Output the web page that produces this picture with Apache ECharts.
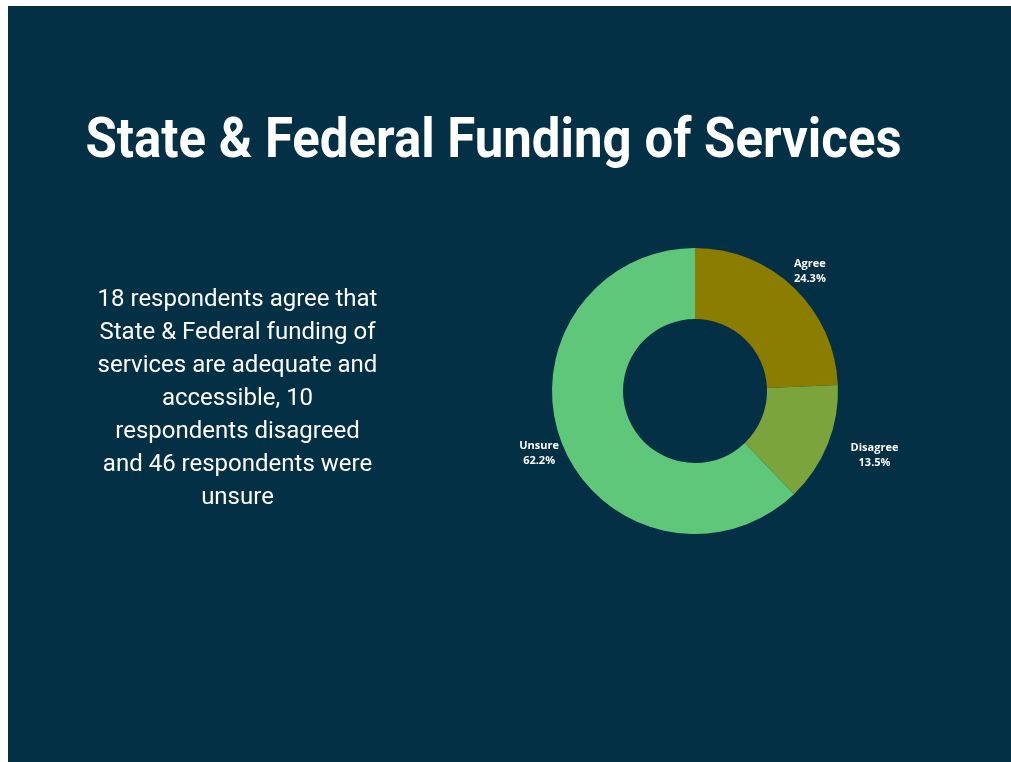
<!DOCTYPE html>
<html>
<head>
<meta charset="utf-8">
<script src="https://cdn.jsdelivr.net/npm/echarts@6/dist/echarts.min.js"></script>
<style>
html,body{margin:0;padding:0;background:#ffffff;}
#chart{width:1011px;height:762px;}
</style>
</head>
<body>
<div id="chart"></div>
<script>
const categories = ['Agree', 'Disagree', 'Unsure'];
const respondents = [18, 10, 46];
const sliceColors = ['#8a7d00', '#7ba43c', '#5fc77a'];
const titleText = 'State & Federal Funding of Services';
const bodyLines = [
  '18 respondents agree that',
  'State & Federal funding of',
  'services are adequate and',
  'accessible, 10',
  'respondents disagreed',
  'and 46 respondents were',
  'unsure'
];
const labelRadial = [23, 30, 25];
const labelHoriz = [0, 19, 0];

const chart = echarts.init(document.getElementById('chart'), null, {renderer: 'canvas'});
const pieData = categories.map((c, i) => ({
  name: c,
  value: respondents[i],
  itemStyle: {color: sliceColors[i]},
  labelLine: {show: false, length: labelRadial[i], length2: labelHoriz[i]}
}));

chart.setOption({
  backgroundColor: '#ffffff',
  animation: false,
  graphic: [
    {type: 'rect', left: 8, top: 6, z: -10, shape: {width: 1003, height: 756}, style: {fill: '#033044'}},
    {type: 'text', x: 493.5, y: 115, scaleX: 0.91, z: 10,
      style: {text: titleText, fill: '#ffffff', font: '700 56px Roboto', textAlign: 'center', textVerticalAlign: 'top'}},
    {type: 'text', x: 237.5, y: 283.5, z: 10,
      style: {text: bodyLines.join('\n'), fill: '#ffffff', font: '400 24px Roboto', textAlign: 'center', lineHeight: 33}}
  ],
  series: [{
    type: 'pie',
    center: [695, 391],
    radius: [72, 143],
    startAngle: 90,
    clockwise: true,
    avoidLabelOverlap: false,
    data: pieData,
    label: {
      show: true,
      position: 'outside',
      distanceToLabelLine: 0,
      formatter: p => p.name + '\n' + p.percent.toFixed(1) + '%',
      color: '#ffffff',
      fontFamily: 'Open Sans',
      fontWeight: 'bold',
      fontSize: 11,
      lineHeight: 15,
      align: 'center'
    },
    labelLayout: {align: 'center'},
    emphasis: {disabled: true}
  }]
});
</script>
</body>
</html>
